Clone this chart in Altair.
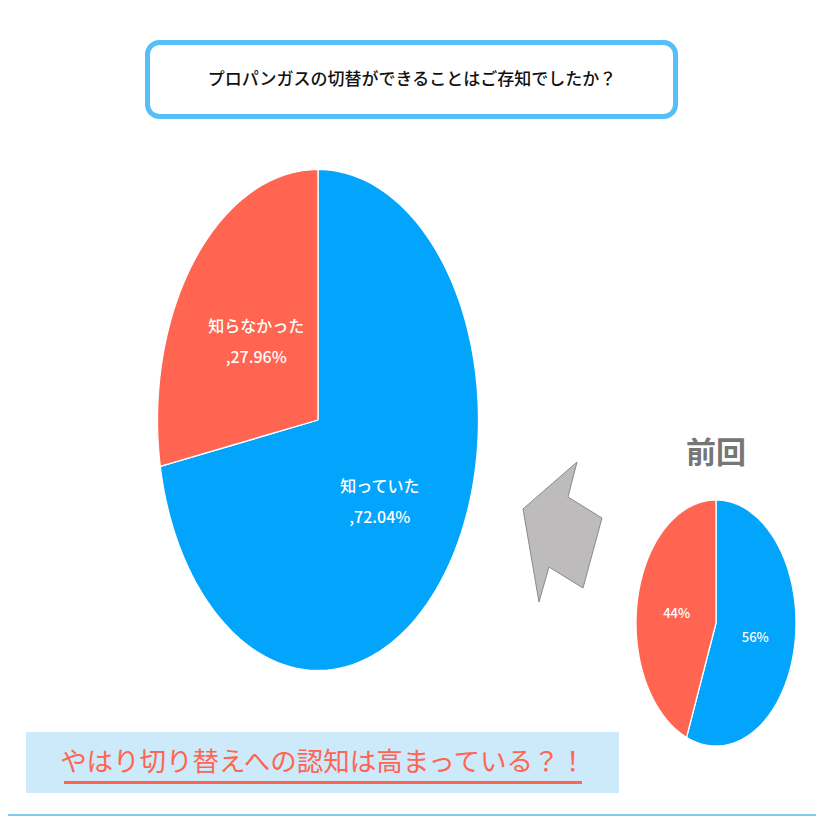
import altair as alt
import pandas as pd

# ---- data ----
categories = ["知っていた", "知らなかった"]
current_values = [72.04, 27.96]
previous_values = [56, 44]
slice_colors = ["#03a4fc", "#ff6550"]

title_text = "プロパンガスの切替ができることはご存知でしたか？"
previous_title = "前回"
banner_text = "やはり切り替えへの認知は高まっている？！"

N = 160  # arc resolution

cur_df = pd.DataFrame({"cat": categories, "value": current_values, "ord": [0, 1]})
prev_df = pd.DataFrame({"cat": categories, "value": previous_values, "ord": [0, 1]})

color_enc = alt.Color("cat:N", scale=alt.Scale(domain=categories, range=slice_colors), legend=None)


def pie(df, x_range, y_range, label_expr, font_size, line_height, dy):
    xs = alt.Scale(domain=[-1, 1], range=x_range, nice=False, zero=False)
    ys = alt.Scale(domain=[-1, 1], range=y_range, nice=False, zero=False)
    base = (
        alt.Chart(df)
        .transform_joinaggregate(total="sum(value)")
        .transform_window(cum="sum(value)", sort=[alt.SortField("ord")])
        .transform_calculate(
            start="(datum.cum - datum.value) / datum.total",
            end="datum.cum / datum.total",
        )
    )
    wedges = (
        base.transform_calculate(step=f"sequence(-1, {N + 2})")
        .transform_flatten(["step"])
        .transform_calculate(
            ang=f"2*PI*(datum.start + (datum.end - datum.start) * clamp(datum.step, 0, {N}) / {N})",
        )
        .transform_calculate(
            px=f"(datum.step < 0 || datum.step > {N}) ? 0 : sin(datum.ang)",
            py=f"(datum.step < 0 || datum.step > {N}) ? 0 : cos(datum.ang)",
        )
        .mark_line(filled=True, stroke="white", strokeWidth=1.3, strokeJoin="round", opacity=1)
        .encode(
            x=alt.X("px:Q", scale=xs, axis=None),
            y=alt.Y("py:Q", scale=ys, axis=None),
            color=color_enc,
            order=alt.Order("step:Q"),
        )
    )
    labels = (
        base.transform_calculate(
            mid="PI*(datum.start + datum.end)",
        )
        .transform_calculate(
            lx="0.5*sin(datum.mid)",
            ly="0.5*cos(datum.mid)",
            label=label_expr,
        )
        .mark_text(
            color="white",
            fontSize=font_size,
            font="Noto Sans CJK JP",
            fontWeight=500,
            lineBreak="\n",
            lineHeight=line_height,
            align="center",
            baseline="middle",
            dy=dy,
        )
        .encode(
            x=alt.X("lx:Q", scale=xs, axis=None),
            y=alt.Y("ly:Q", scale=ys, axis=None),
            text="label:N",
        )
    )
    return [wedges, labels]


big = pie(
    cur_df,
    [149.5, 470.5],
    [662.5, 161.5],
    "datum.cat + '\\n,' + format(datum.value, '.2f') + '%'",
    16,
    31,
    -13,
)
small = pie(
    prev_df,
    [628, 788],
    [738, 492],
    "format(datum.value, 'd') + '%'",
    13,
    16,
    3,
)

one = pd.DataFrame({"k": [0]})

title_box = alt.Chart(one).mark_rect(
    fill="white", stroke="#55bff8", strokeWidth=5, cornerRadius=12
).encode(x=alt.value(139.5), x2=alt.value(667.5), y=alt.value(34.5), y2=alt.value(108.5))

title = alt.Chart(one).mark_text(
    text=title_text, fontSize=17, font="Noto Sans CJK JP", fontWeight=500, color="#111111",
    align="center", baseline="middle",
).encode(x=alt.value(404), y=alt.value(72))

prev_title = alt.Chart(one).mark_text(
    text=previous_title, fontSize=30, font="Noto Sans CJK JP", fontWeight="bold", color="#767676",
    align="center", baseline="middle",
).encode(x=alt.value(708), y=alt.value(446))

arrow_path = (
    "M0.207,-1 L0.079,-0.5 L0.564,-0.2 L0.293,0.8 L-0.193,0.5 "
    "L-0.336,1 L-0.564,-0.329 Z"
)
arrow = alt.Chart(one).mark_point(
    shape=arrow_path, size=19600, filled=True, fill="#bdbbbb", stroke="#8a8a8a",
    strokeWidth=1, opacity=1,
).encode(x=alt.value(554.5), y=alt.value(524))

banner = alt.Chart(one).mark_rect(fill="#cdeafb").encode(
    x=alt.value(18), x2=alt.value(611), y=alt.value(724), y2=alt.value(785)
)
banner_txt = alt.Chart(one).mark_text(
    text=banner_text, fontSize=26.5, font="Noto Sans CJK JP", color="#ff6550",
    align="center", baseline="middle",
).encode(x=alt.value(315), y=alt.value(755))
underline = alt.Chart(one).mark_rule(color="#ff6550", strokeWidth=3).encode(
    x=alt.value(56), x2=alt.value(574), y=alt.value(774.5)
)
bottom_line = alt.Chart(one).mark_rule(color="#7fcbf2", strokeWidth=2).encode(
    x=alt.value(0), x2=alt.value(808), y=alt.value(807)
)

chart = (
    alt.layer(
        title_box, title, *big, prev_title, arrow, *small, banner, banner_txt, underline, bottom_line
    )
    .resolve_scale(x="independent", y="independent", color="shared")
    .properties(
        width=808,
        height=808,
        padding=0,
        autosize=alt.AutoSizeParams(type="none"),
        background="white",
    )
    .configure_view(strokeWidth=0)
)

chart.save("out.html", embed_options={"renderer": "svg", "actions": False})
